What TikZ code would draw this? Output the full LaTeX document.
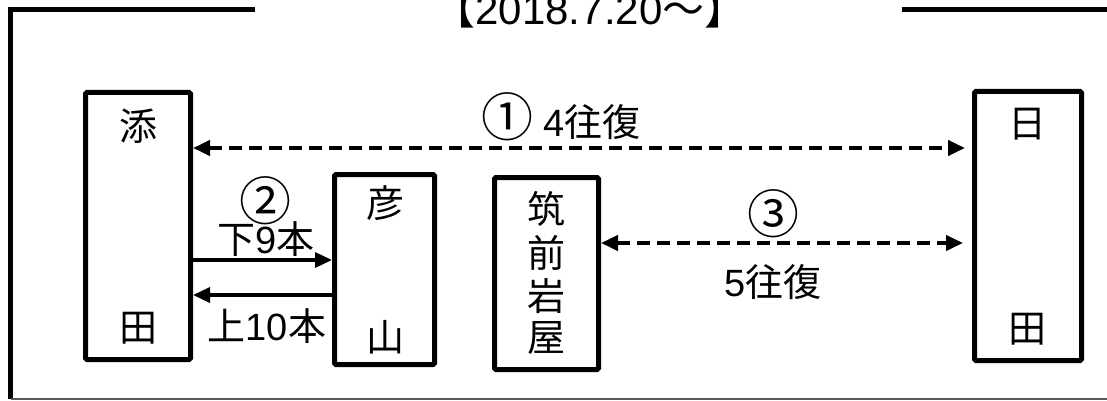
\documentclass[tikz,border=0pt]{standalone}
\usepackage{fontspec}
\setmainfont{Liberation Sans}
\newfontfamily\jp{Noto Sans CJK JP}
\usetikzlibrary{arrows.meta}
\newcommand\Jt[1]{{\jp #1}}
\tikzset{
  stnbox/.style={draw, line width=5pt, rounded corners=1.5pt, inner sep=0pt},
  kanji/.style={font=\jp\fontsize{38}{38}\selectfont, inner sep=0pt},
  lbl/.style={font=\fontsize{38}{38}\selectfont, inner sep=0pt},
  circnum/.style={font=\jp\fontsize{52}{52}\selectfont, inner sep=0pt},
  dasharr/.style={line width=4pt, dash pattern=on 13pt off 7pt, {Triangle[length=17pt,width=15pt]}-{Triangle[length=17pt,width=15pt]}},
  solarr/.style={line width=3.5pt, -{Triangle[length=17pt,width=15pt]}},
  frame/.style={line width=5pt, line cap=butt}
}
\begin{document}
\begin{tikzpicture}[x=1pt,y=-1pt]
\useasboundingbox (0,0) rectangle (1107,401);
% frame
\coordinate (fTL) at (8,9.5);
\coordinate (fTLe) at (255,9.5);
\coordinate (fTR) at (902,9.5);
\coordinate (fTRe) at (1107,9.5);
\coordinate (fBL) at (10.5,399);
\coordinate (fBR) at (1107,399);
\draw[frame] (fTLe) -- (fTL -| fBL) -- (fBL);
\draw[frame] (fTR) -- (fTRe);
\draw[line width=1.5pt, black!65] (fBL) -- (fBR);
% title
\node[anchor=base, inner sep=0pt, font=\fontsize{42}{42}\selectfont] (title) at (590,25)
  {\Jt{【}2018.7.20\Jt{～】}};
% stations
\node[stnbox, minimum width=105pt, minimum height=267pt] (soeda) at (138,226) {};
\node[stnbox, minimum width=100pt, minimum height=190pt] (hiko) at (384.5,269.5) {};
\node[stnbox, minimum width=104pt, minimum height=192pt] (chiku) at (546.5,273.5) {};
\node[stnbox, minimum width=107pt, minimum height=269pt] (hita) at (1028,226) {};
\node[kanji] (soedaA) at (138,126) {添};
\node[kanji] (soedaB) at (138,328) {田};
\node[kanji] (hikoA) at (385,203) {彦};
\node[kanji] (hikoB) at (385,337) {山};
\node[kanji] (chikuA) at (546,209) {筑};
\node[kanji] (chikuB) at (546,253) {前};
\node[kanji] (chikuC) at (546,296) {岩};
\node[kanji] (chikuD) at (546,338) {屋};
\node[kanji] (hitaA) at (1027,124) {日};
\node[kanji] (hitaB) at (1027,329) {田};
% connectors
\coordinate (y1) at (0,148);
\coordinate (y3) at (0,243);
\coordinate (y2a) at (0,260);
\coordinate (y2b) at (0,295);
\draw[dasharr, shorten >=7pt] (soeda.east |- y1) -- (hita.west |- y1);
\draw[dasharr, shorten >=9pt] (chiku.east |- y3) -- (hita.west |- y3);
\draw[solarr] (soeda.east |- y2a) -- (hiko.west |- y2a);
\draw[solarr] (hiko.west |- y2b) -- (soeda.east |- y2b);
% labels
\node[circnum] (c1) at (507,117) {①};
\node[lbl, anchor=west] (l1) at (543,122) {4\Jt{往復}};
\node[circnum] (c2) at (265,201) {②};
\node[lbl] (l2a) at (266,239) {\Jt{下}9\Jt{本}};
\node[lbl] (l2b) at (267,326) {\Jt{上}10\Jt{本}};
\node[circnum] (c3) at (773,214) {③};
\node[lbl] (l3) at (773,282) {5\Jt{往復}};
\end{tikzpicture}
\end{document}
